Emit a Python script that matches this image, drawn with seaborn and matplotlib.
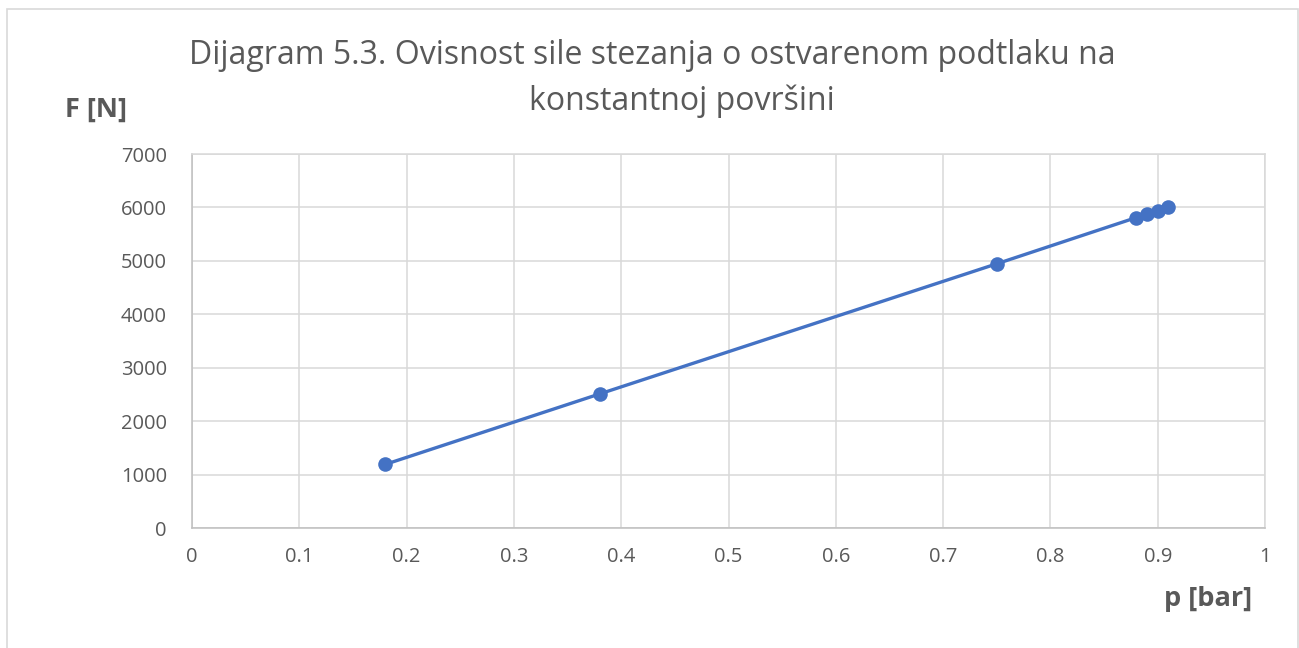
import matplotlib
matplotlib.use("Agg")
import matplotlib.pyplot as plt
import pandas as pd
import seaborn as sns
from matplotlib.patches import Rectangle

# values
pressure = [0.18, 0.38, 0.75, 0.88, 0.89, 0.90, 0.91]
force = [1190, 2510, 4945, 5810, 5875, 5940, 6005]
x_ticks = [0, 0.1, 0.2, 0.3, 0.4, 0.5, 0.6, 0.7, 0.8, 0.9, 1]
x_labels = ["0", "0.1", "0.2", "0.3", "0.4", "0.5", "0.6", "0.7", "0.8", "0.9", "1"]
y_ticks = [0, 1000, 2000, 3000, 4000, 5000, 6000, 7000]
title_1 = "Dijagram 5.3. Ovisnost sile stezanja o ostvarenom podtlaku na"
title_2 = "konstantnoj površini"

df = pd.DataFrame({"p": pressure, "F": force})

sns.set_style("white")
plt.rcParams["font.family"] = ["Open Sans", "DejaVu Sans"]
text_col = "#595959"
line_col = "#4472C4"
grid_col = "#D9D9D9"

W, H = 1299, 648
fig = plt.figure(figsize=(W / 100, H / 100), dpi=100)
ax = fig.add_axes([192 / W, 1 - 528 / H, (1265 - 192) / W, (528 - 154) / H])

sns.lineplot(data=df, x="p", y="F", ax=ax, color=line_col, linewidth=2.4,
             marker="o", markersize=10.5, markeredgewidth=0, zorder=3)

ax.set_xlim(0, 1)
ax.set_ylim(0, 7000)
ax.set_xticks(x_ticks)
ax.set_xticklabels(x_labels)
ax.set_yticks(y_ticks)
ax.grid(True, color=grid_col, linewidth=1.1)
ax.set_axisbelow(True)
for side in ["top", "right"]:
    ax.spines[side].set_color(grid_col)
    ax.spines[side].set_linewidth(1.1)
for side in ["left", "bottom"]:
    ax.spines[side].set_color("#BFBFBF")
    ax.spines[side].set_linewidth(1.1)
ax.tick_params(axis="both", length=0, labelsize=14.5, labelcolor=text_col)
ax.tick_params(axis="x", pad=14)
ax.tick_params(axis="y", pad=18)
ax.set_xlabel("")
ax.set_ylabel("")

# titles and axis names
fig.text(652 / W, 1 - 55 / H, title_1, ha="center", va="center",
         fontsize=23, color=text_col)
fig.text(682 / W, 1 - 101 / H, title_2, ha="center", va="center",
         fontsize=23, color=text_col)
fig.text(96 / W, 1 - 110 / H, "F [N]", ha="center", va="center",
         fontsize=19.5, fontweight="bold", color=text_col)
fig.text(1208 / W, 1 - 599 / H, "p [bar]", ha="center", va="center",
         fontsize=19.5, fontweight="bold", color=text_col)

# chart area border (bottom edge runs off the image)
fig.patches.append(Rectangle((7 / W, -0.02), (1298 - 7) / W, 1.02 - 9 / H,
                             transform=fig.transFigure, fill=False,
                             edgecolor=grid_col, linewidth=1.2))

fig.savefig("out.png", dpi=100)
